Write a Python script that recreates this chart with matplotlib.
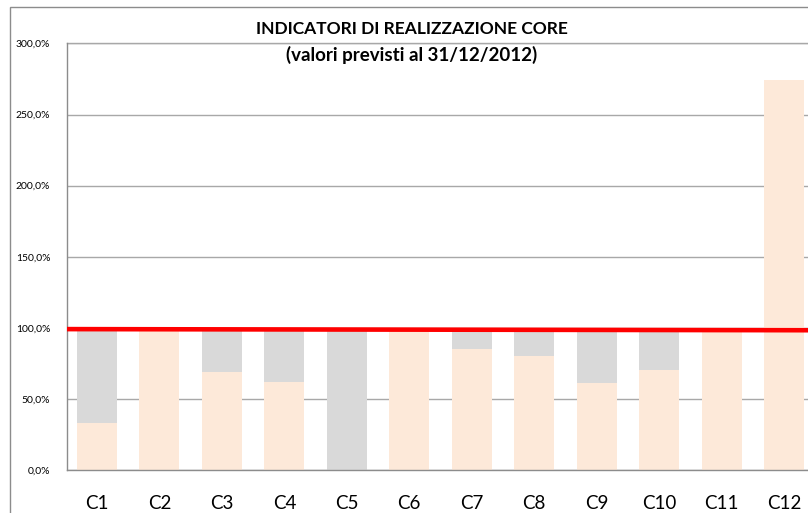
import matplotlib
matplotlib.use("Agg")
import matplotlib.pyplot as plt
from matplotlib.patches import Rectangle
from matplotlib.ticker import FuncFormatter

categories = ["C1", "C2", "C3", "C4", "C5", "C6", "C7", "C8", "C9", "C10", "C11", "C12"]
realizzato = [33, 97.5, 69, 62, 0, 97.5, 85, 80, 61, 70.5, 97.5, 274.5]
mancante = [64.5, 0, 28.5, 35.5, 97.5, 0, 12.5, 17.5, 36.5, 27, 0, 0]
target_line = [99.1, 98.3]
yticks = [0, 50, 100, 150, 200, 250, 300]
title_line1 = "INDICATORI DI REALIZZAZIONE CORE"
title_line2 = "(valori previsti al 31/12/2012)"

plt.rcParams['font.family'] = ['Lato', 'DejaVu Sans']

fig = plt.figure(figsize=(8.08, 5.13), dpi=100)
fig.patches.append(Rectangle((10/808, -0.1), 1.2, 1.1 - 7.5/513, transform=fig.transFigure,
                             fill=False, edgecolor="#8C8C8C", linewidth=1.0))

ax = fig.add_axes([67/808, 1 - 470/513, (814 - 67)/808, (470 - 43.5)/513])
x = list(range(len(categories)))
ax.bar(x, realizzato, width=0.64, color="#FDE9D9", zorder=2)
ax.bar(x, mancante, width=0.64, bottom=realizzato, color="#D9D9D9", zorder=2)
ax.plot([-0.48, len(categories) - 0.52], target_line, color="#FF0000", linewidth=3.3, zorder=3,
        solid_capstyle="butt")

ax.set_xlim(-0.48, len(categories) - 0.52)
ax.set_ylim(0, 300)
ax.set_yticks(yticks)
ax.yaxis.set_major_formatter(FuncFormatter(lambda v, p: f"{v:.1f}%".replace(".", ",")))
ax.set_xticks(x)
ax.set_xticklabels(categories, fontsize=13.5)
ax.tick_params(axis="y", length=0, pad=12, labelsize=7.5)
ax.tick_params(axis="x", length=0, pad=18)
ax.grid(axis="y", color="#A8A8A8", linewidth=1.0, zorder=0)
ax.axhline(300, color="#A8A8A8", linewidth=1.0, zorder=0, clip_on=False)
ax.set_axisbelow(True)
for s in ["top", "right"]:
    ax.spines[s].set_visible(False)
for s in ["left", "bottom"]:
    ax.spines[s].set_color("#8C8C8C")
    ax.spines[s].set_linewidth(1.0)

fig.text(412/808, 1 - 29/513, title_line1, ha="center", va="center", fontsize=12.5, fontweight="bold")
fig.text(412/808, 1 - 55/513, title_line2, ha="center", va="center", fontsize=13.5, fontweight="bold")

fig.savefig("out.png", dpi=100)
